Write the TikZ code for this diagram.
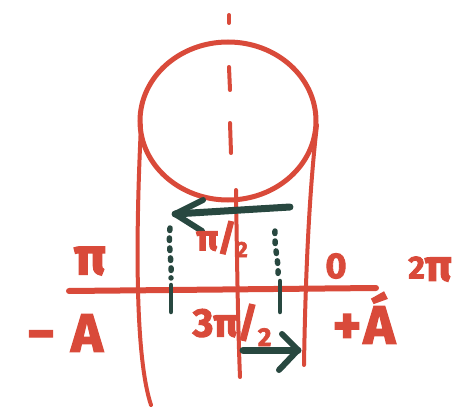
\documentclass[tikz,border=0pt]{standalone}
\usepackage{fontspec}
\setmainfont{Fira Sans}[BoldFeatures={FakeBold=2.5}]
\definecolor{inkred}{RGB}{217,74,58}
\definecolor{inkgreen}{RGB}{40,72,64}
\begin{document}
\begin{tikzpicture}[x=1pt,y=-1pt,
  redline/.style={draw=inkred,line width=4pt,line cap=round},
  greenline/.style={draw=inkgreen,line width=7pt,line cap=round,line join=round},
  dotline/.style={draw=inkgreen,line width=5.5pt,line cap=round,dash pattern=on 2.5pt off 7.5pt},
  lbl/.style={text=inkred,font=\bfseries,inner sep=0pt}]
\useasboundingbox (0,0) rectangle (472,412);
% circle
\draw[redline,line width=5pt] (228,121) ellipse [x radius=88pt, y radius=79pt];
% centre line
\draw[redline] (229,15) -- (229,23);
\draw[redline] (229,67) -- (230,90);
\draw[redline] (230,123) -- (231,153);
\draw[redline] (236,190) .. controls (237,260) and (238,330) .. (240,377);
% side lines
\draw[redline] (141,125) .. controls (135,250) and (136,360) .. (151,405);
\draw[redline] (317,125) .. controls (308,200) and (305,300) .. (304,365);
% axis
\draw[redline,line width=6pt] (69,291) -- (376,288);
% dotted projections
\draw[dotline] (170,228) .. controls (168,245) and (172,262) .. (171,278);
\draw[greenline,line width=4.5pt] (171,285) -- (171,312);
\draw[dotline] (275,231) .. controls (274,248) and (279,262) .. (278,274);
\draw[greenline,line width=4.5pt] (280,281) -- (280,312);
% arrows
\coordinate (t1) at (175,214);
\coordinate (s1) at (290,207);
\draw[greenline] (s1) -- (t1);
\draw[greenline,line width=6pt] (203,200) -- (t1) -- (202,231);
\coordinate (t2) at (298,350);
\coordinate (s2) at (243,350);
\draw[greenline] (s2) -- (t2);
\draw[greenline,line width=6pt] (282,334) -- (t2) -- (279,370);
% labels
\node[lbl,font=\bfseries\fontsize{52}{52}\selectfont] (pi) at (90,261) {π};
\node[lbl,font=\bfseries\fontsize{36}{36}\selectfont] (zero) at (336,266) {0};
\node[lbl,font=\bfseries\fontsize{44}{44}\selectfont] (twopi) at (430,269) {\raisebox{0.1ex}{\fontsize{32}{32}\selectfont 2}π};
\node[lbl,font=\bfseries\fontsize{54}{54}\selectfont] (mA) at (65,333) {−\hspace{16pt}A};
\node[lbl,font=\bfseries\fontsize{54}{54}\selectfont] (pA) at (364,318) {+\hspace{2pt}Á};
\node[lbl,font=\bfseries\fontsize{36}{36}\selectfont] (halfpi) at (222,239) {π/\raisebox{-0.35ex}{\fontsize{22}{22}\selectfont 2}};
\node[lbl,font=\bfseries\fontsize{40}{40}\selectfont] (threehalfpi) at (232,325) {3π/\raisebox{-0.45ex}{\fontsize{26}{26}\selectfont 2}};
\end{tikzpicture}
\end{document}
